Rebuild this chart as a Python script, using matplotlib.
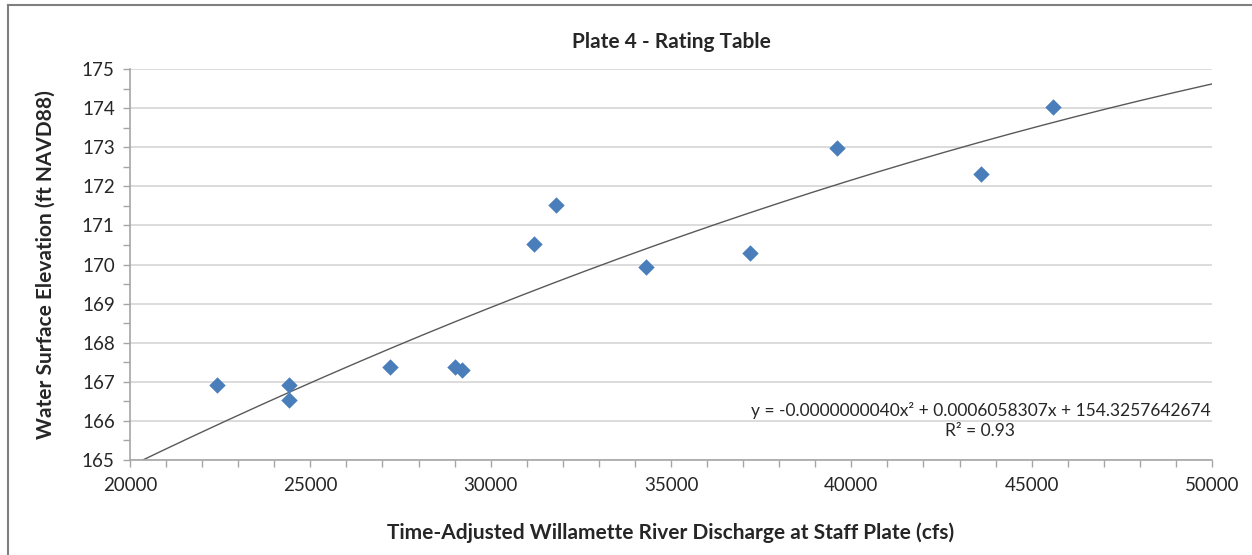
import numpy as np
import matplotlib
matplotlib.use("Agg")
import matplotlib.pyplot as plt
from matplotlib.lines import Line2D
from matplotlib.ticker import MultipleLocator

discharge = [22400, 24400, 24400, 27200, 29000, 29200, 31200, 31800,
             34300, 37200, 39600, 43600, 45600]
elevation = [166.92, 166.92, 166.53, 167.38, 167.38, 167.30, 170.52, 171.52,
             169.94, 170.29, 172.98, 172.31, 174.03]

# trendline coefficients as printed on the chart (order 2 polynomial)
trend_coef = [-0.0000000040, 0.0006058307, 154.3257642674]
r_squared = 0.93

plt.rcParams['font.family'] = ['Lato', 'DejaVu Sans']

fig = plt.figure(figsize=(12.52, 5.55), dpi=100)
ax = fig.add_axes([130 / 1252, 1 - 460 / 555, (1212 - 130) / 1252, (460 - 69) / 555])

# outer frame (only top and left visible in the reference crop)
fig.add_artist(Line2D([8 / 1252, 8 / 1252], [0, 1 - 5 / 555], transform=fig.transFigure,
                      color="#7f7f7f", lw=1.5))
fig.add_artist(Line2D([8 / 1252, 1], [1 - 5 / 555, 1 - 5 / 555], transform=fig.transFigure,
                      color="#7f7f7f", lw=1.5))

ax.scatter(discharge, elevation, marker="D", s=70, color="#4A7EBB", zorder=3, linewidths=0)

xs = np.linspace(20000, 50000, 300)
ax.plot(xs, np.polyval(trend_coef, xs), color="#595959", lw=1.0, zorder=2)

ax.set_xlim(20000, 50000)
ax.set_ylim(165, 175)
ax.xaxis.set_major_locator(MultipleLocator(5000))
ax.xaxis.set_minor_locator(MultipleLocator(1000))
ax.yaxis.set_major_locator(MultipleLocator(1))
ax.yaxis.set_minor_locator(MultipleLocator(0.5))

ax.grid(True, which="major", axis="y", color="#d9d9d9", lw=1.3)
ax.set_axisbelow(True)
for s in ["top", "right"]:
    ax.spines[s].set_visible(False)
for s in ["left", "bottom"]:
    ax.spines[s].set_color("#a6a6a6")
    ax.spines[s].set_linewidth(1.2)

ax.tick_params(which="both", direction="out", length=5, width=1.0, color="#a6a6a6",
               labelsize=13.5, labelcolor="#262626")
ax.tick_params(axis="x", pad=7)
ax.tick_params(axis="y", pad=6)

ax.set_xlabel("Time-Adjusted Willamette River Discharge at Staff Plate (cfs)",
              fontsize=15, fontweight="bold", labelpad=21, color="#262626")
ax.set_ylabel("Water Surface Elevation (ft NAVD88)", fontsize=15, fontweight="bold",
              labelpad=19, color="#262626")
ax.set_title("Plate 4 - Rating Table", fontsize=15, fontweight="bold", pad=15, color="#262626")

a, b, c = trend_coef
eq_text = "y = {:.10f}x\u00b2 + {:.10f}x + {:.10f}\nR\u00b2 = {:.2f}".format(a, b, c, r_squared)
ax.text(0.786, 0.102, eq_text, transform=ax.transAxes, ha="center", va="center",
        fontsize=12.5, color="#262626", linespacing=1.3)

plt.savefig("out.png", dpi=100)
